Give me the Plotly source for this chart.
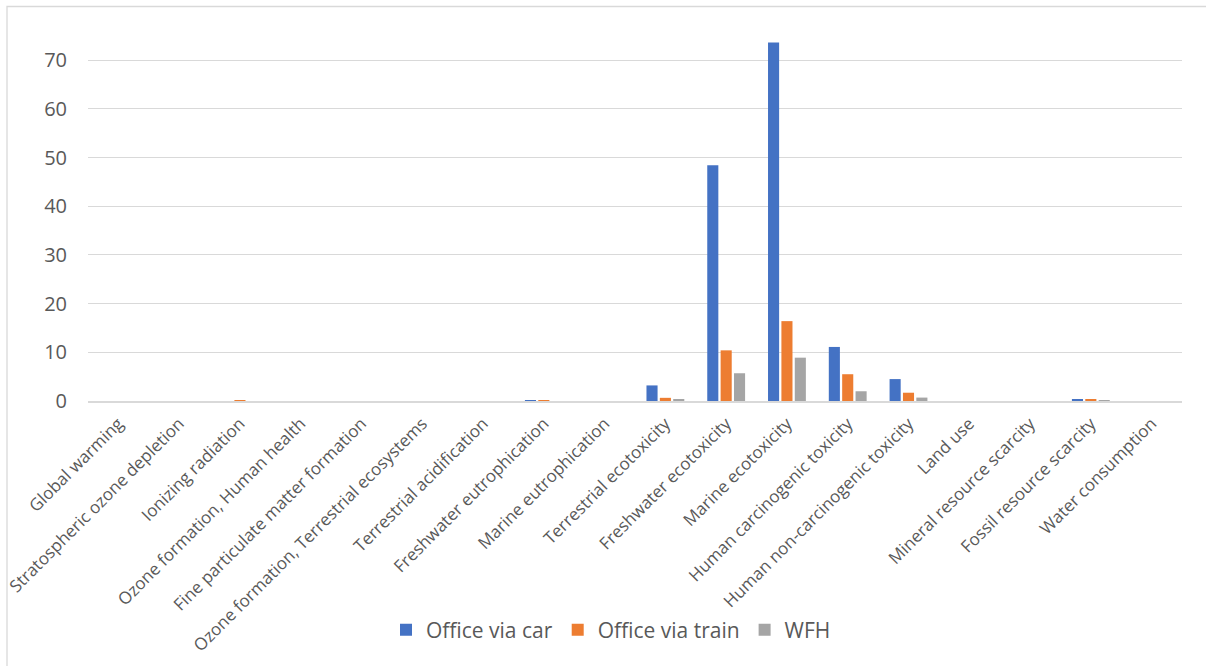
import plotly.graph_objects as go

categories = [
    "Global warming", "Stratospheric ozone depletion", "Ionizing radiation",
    "Ozone formation, Human health", "Fine particulate matter formation",
    "Ozone formation, Terrestrial ecosystems", "Terrestrial acidification",
    "Freshwater eutrophication", "Marine eutrophication", "Terrestrial ecotoxicity",
    "Freshwater ecotoxicity", "Marine ecotoxicity", "Human carcinogenic toxicity",
    "Human non-carcinogenic toxicity", "Land use", "Mineral resource scarcity",
    "Fossil resource scarcity", "Water consumption",
]
office_car = [0, 0, 0, 0, 0, 0, 0, 0.05, 0, 3.2, 48.4, 73.6, 11.1, 4.5, 0, 0, 0.35, 0]
office_train = [0, 0, 0.05, 0, 0, 0, 0, 0.05, 0, 0.65, 10.4, 16.4, 5.5, 1.7, 0, 0, 0.25, 0]
wfh = [0, 0, 0, 0, 0, 0, 0, 0, 0, 0.25, 5.7, 8.9, 2.0, 0.7, 0, 0, 0.2, 0]
series_names = ["Office via car", "Office via train", "WFH"]
colors = ["#4472C4", "#ED7D31", "#A5A5A5"]
y_ticks = [0, 10, 20, 30, 40, 50, 60, 70]

W, H = 1206, 666
L, R, T, B = 88, 24, 24, 265
plot_w = W - L - R
plot_h = H - T - B
px_per_unit = 4.87
ymax = plot_h / px_per_unit

fig = go.Figure()
for name, vals, col in zip(series_names, [office_car, office_train, wfh], colors):
    fig.add_trace(go.Bar(
        x=categories, y=vals, name=name,
        marker=dict(color=col, line=dict(width=0)),
    ))

def px_to_paper_x(px):
    return (px - L) / plot_w

def px_to_paper_y(py):
    return (H - B - py) / plot_h

fig.add_shape(
    type="rect", xref="paper", yref="paper",
    x0=px_to_paper_x(7), x1=px_to_paper_x(1215),
    y0=px_to_paper_y(675), y1=px_to_paper_y(6.5),
    line=dict(color="#D9D9D9", width=1.3), fillcolor="rgba(0,0,0,0)", layer="below",
)

font_family = "Open Sans, Noto Sans, sans-serif"
fig.update_layout(
    width=W, height=H,
    margin=dict(l=L, r=R, t=T, b=B, autoexpand=False),
    paper_bgcolor="white", plot_bgcolor="white",
    barmode="group", bargap=0.34, bargroupgap=0.17,
    font=dict(family=font_family, color="#595959"),
    showlegend=True,
    legend=dict(
        orientation="h", x=px_to_paper_x(611), xanchor="center",
        y=px_to_paper_y(630), yanchor="middle",
        font=dict(size=21, color="#595959", family=font_family),
        itemwidth=30, traceorder="normal", itemclick=False,
    ),
    xaxis=dict(
        tickangle=-45, tickfont=dict(size=17, color="#595959"),
        showgrid=False, showline=True, linecolor="#D9D9D9", linewidth=2,
        ticks="outside", ticklen=4, tickcolor="rgba(0,0,0,0)",
        fixedrange=True,
    ),
    yaxis=dict(
        range=[0, ymax], tickvals=y_ticks, showgrid=True,
        gridcolor="#D9D9D9", gridwidth=1.3, zeroline=False,
        tickfont=dict(size=20, color="#595959"),
        ticks="outside", ticklen=16, tickcolor="rgba(0,0,0,0)",
        showline=False, fixedrange=True,
    ),
)

fig.write_html("out.html")
